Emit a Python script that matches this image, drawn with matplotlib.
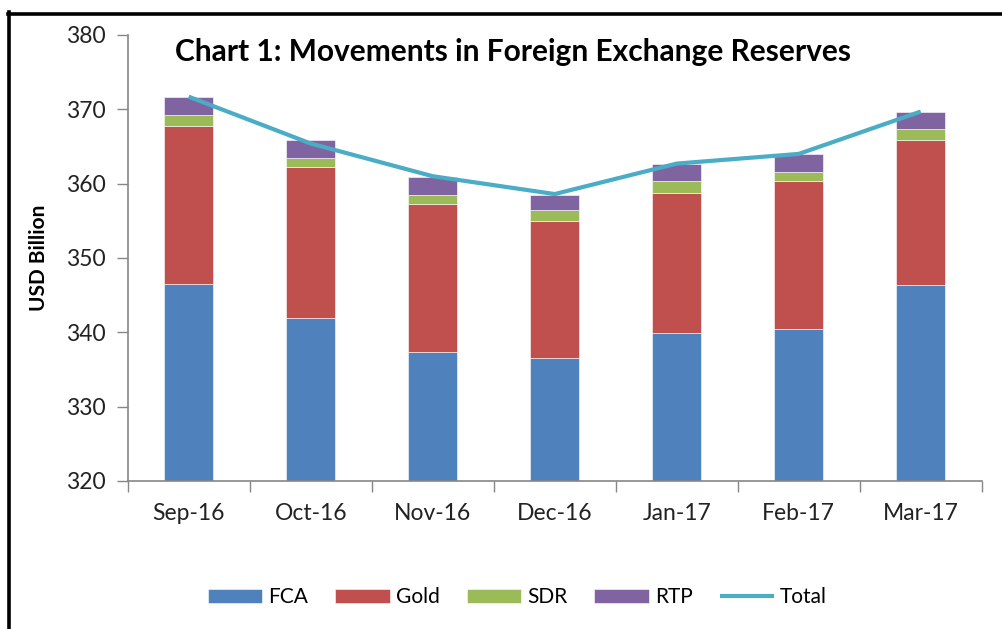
import matplotlib.pyplot as plt
import numpy as np
from matplotlib.lines import Line2D

plt.rcParams['font.family'] = ['Lato', 'DejaVu Sans']

months = ['Sep-16', 'Oct-16', 'Nov-16', 'Dec-16', 'Jan-17', 'Feb-17', 'Mar-17']
# USD billion (base of axis is 320)
fca = [346.5, 341.9, 337.4, 336.6, 339.9, 340.4, 346.3]
gold = [21.3, 20.3, 19.8, 18.4, 18.9, 19.9, 19.6]
sdr = [1.5, 1.3, 1.3, 1.4, 1.5, 1.3, 1.4]
rtp = [2.3, 2.4, 2.4, 2.1, 2.3, 2.4, 2.3]
total = [371.7, 365.4, 361.0, 358.6, 362.7, 364.0, 369.7]

yticks = [320, 330, 340, 350, 360, 370, 380]

c_fca = '#4F81BD'
c_gold = '#C0504D'
c_sdr = '#9BBB59'
c_rtp = '#8064A2'
c_tot = '#4BACC6'
axis_grey = '#868686'

fig = plt.figure(figsize=(10.03, 6.29), dpi=100)
ax = fig.add_axes([0.1273, 0.2353, 0.8515, 0.7091])

x = np.arange(len(months))
w = 0.40
base = 320
fca_h = np.array(fca) - base
b1 = np.array(fca)
b2 = b1 + np.array(gold)
b3 = b2 + np.array(sdr)

h1 = ax.bar(x, fca_h, w, bottom=base, color=c_fca, edgecolor='white', linewidth=0.4, label='FCA')
h2 = ax.bar(x, gold, w, bottom=b1, color=c_gold, edgecolor='white', linewidth=0.4, label='Gold')
h3 = ax.bar(x, sdr, w, bottom=b2, color=c_sdr, edgecolor='white', linewidth=0.4, label='SDR')
h4 = ax.bar(x, rtp, w, bottom=b3, color=c_rtp, edgecolor='white', linewidth=0.4, label='RTP')
h5, = ax.plot(x, total, color=c_tot, linewidth=3, label='Total', solid_capstyle='butt')

ax.set_xlim(-0.5, len(months) - 0.5)
ax.set_ylim(320, 380)
ax.set_yticks(yticks)
ax.set_yticklabels([str(t) for t in yticks], fontsize=16.5, color='#222222')
ax.set_xticks(x)
ax.set_xticklabels(months, fontsize=16.5, color='#222222')
ax.set_xticks(np.arange(len(months) + 1) - 0.5, minor=True)
ax.tick_params(axis='x', which='major', length=0, pad=16)
ax.tick_params(axis='x', which='minor', length=8, color=axis_grey, width=1)
ax.tick_params(axis='y', length=8, color=axis_grey, width=1, pad=8)

for s in ['top', 'right']:
    ax.spines[s].set_visible(False)
for s in ['left', 'bottom']:
    ax.spines[s].set_color(axis_grey)
    ax.spines[s].set_linewidth(1.2)

ax.set_ylabel('USD Billion', fontsize=15, fontweight='bold', labelpad=12)

fig.text(0.511, 0.917, 'Chart 1: Movements in Foreign Exchange Reserves',
         ha='center', va='center', fontsize=21.5, fontweight='bold')

fig.legend([h1, h2, h3, h4, h5], ['FCA', 'Gold', 'SDR', 'RTP', 'Total'],
           loc='center', bbox_to_anchor=(0.516, 0.051), ncol=5, frameon=False,
           fontsize=15, handlelength=2.6, handleheight=0.65, columnspacing=1.3,
           handletextpad=0.3)

# outer frame (top and left edges only)
fig.add_artist(Line2D([0.0075, 1.0], [0.9785, 0.9785], transform=fig.transFigure,
                      color='black', linewidth=2.6))
fig.add_artist(Line2D([0.0085, 0.0085], [0.0, 0.981], transform=fig.transFigure,
                      color='black', linewidth=2.6))

fig.savefig('out.png', dpi=100)
